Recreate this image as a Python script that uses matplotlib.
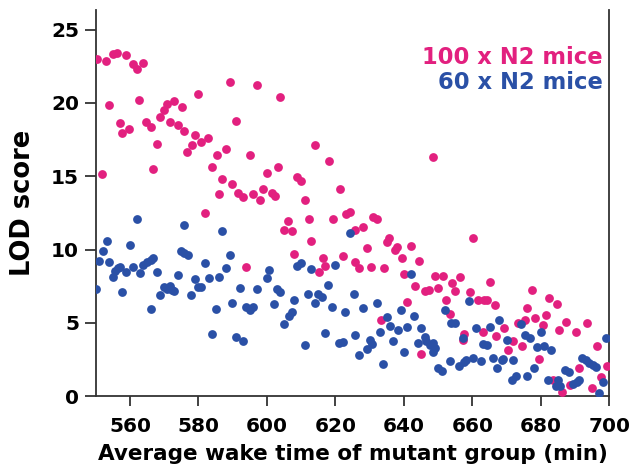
import matplotlib

matplotlib.use("Agg")
import matplotlib.pyplot as plt  # noqa: E402

# 100 x N2 mice (pink)
pink_x = [
    550.4, 553.0, 554.9, 556.1, 558.8, 560.9, 562.1, 563.9, 553.8, 562.7,
    557.1, 557.6, 559.8, 564.8, 566.0, 567.8, 566.6, 551.8, 568.9, 569.9,
    570.9, 572.8, 571.8, 574.0, 575.2, 575.9, 576.7, 578.1, 579.0, 580.8,
    582.9, 580.0, 589.2, 597.1, 590.9, 584.1, 585.3, 588.0, 595.0, 587.0,
    589.9, 585.9, 591.7, 593.0, 596.0, 598.9, 599.9, 598.1, 603.8, 614.0,
    618.0, 603.3, 608.9, 610.1, 621.3, 601.5, 602.3, 611.0, 606.2, 605.0,
    607.3, 612.2, 613.0, 607.9, 619.2, 623.1, 624.3, 628.0, 631.1, 632.3,
    629.3, 616.3, 616.9, 615.1, 622.1, 625.6, 627.0, 630.3, 634.2, 633.2,
    625.7, 582.0, 594.0, 635.8, 635.2, 637.9, 637.3, 642.2, 639.4, 644.3,
    640.0, 643.3, 646.3, 647.4, 649.0, 651.3, 650.1, 656.4, 654.2, 655.0,
    660.3, 652.3, 659.3, 661.8, 663.4, 664.4, 665.3, 666.5, 641.0, 653.4,
    657.7, 657.4, 663.0, 666.9, 645.1, 648.5, 677.3, 682.3, 684.7, 676.1,
    681.4, 673.2, 675.5, 678.4, 680.6, 687.4, 693.6, 685.2, 690.3, 669.3,
    671.8, 674.4, 670.5, 696.3, 679.4, 691.3, 699.3, 697.7, 688.4, 695.0,
    686.2, 683.5,
]
pink_y = [
    22.98, 22.89, 23.34, 23.43, 23.25, 22.66, 22.34, 22.71, 19.84, 20.20,
    18.60, 17.93, 18.20, 18.70, 18.34, 17.20, 15.47, 15.15, 19.02, 19.52,
    19.93, 20.16, 18.70, 18.52, 19.70, 18.11, 16.66, 17.16, 17.84, 17.34,
    17.60, 20.60, 21.40, 21.20, 18.75, 15.65, 16.43, 16.84, 16.43, 14.79,
    14.47, 13.79, 13.83, 13.60, 13.79, 14.15, 15.24, 13.38, 20.39, 17.11,
    16.06, 15.65, 14.93, 14.70, 14.11, 13.88, 13.65, 13.40, 11.95, 11.31,
    11.26, 12.08, 10.58, 9.71, 12.08, 12.44, 12.54, 11.54, 12.22, 12.08,
    10.08, 9.40, 8.89, 8.44, 9.58, 9.17, 8.72, 8.81, 8.72, 5.17,
    11.33, 12.51, 8.78, 10.77, 10.53, 10.17, 9.99, 10.26, 9.40, 9.22,
    8.31, 7.53, 7.17, 7.26, 8.17, 8.21, 7.39, 8.12, 7.71, 7.17,
    10.76, 6.53, 7.08, 6.53, 6.53, 6.53, 7.76, 6.21, 6.44, 5.62,
    4.21, 3.80, 4.35, 4.12, 2.85, 16.34, 7.26, 6.67, 6.26, 5.98,
    5.53, 4.98, 5.21, 5.30, 4.85, 5.07, 4.98, 4.48, 4.35, 4.62,
    3.75, 3.39, 3.12, 3.43, 2.53, 1.93, 2.03, 1.30, 0.75, 0.52,
    0.29, 1.07,
]

# 60 x N2 mice (blue)
blue_x = [
    550.1, 551.0, 552.0, 553.2, 553.9, 554.9, 555.7, 556.5, 557.1, 557.8,
    558.8, 560.0, 560.9, 562.1, 562.9, 563.9, 564.9, 566.0, 566.8, 567.8,
    566.0, 568.7, 569.9, 570.9, 571.7, 572.2, 573.0, 574.0, 575.7, 574.8,
    575.7, 576.9, 577.9, 579.0, 580.0, 580.8, 582.0, 583.1, 584.1, 585.1,
    585.9, 587.0, 588.0, 589.2, 589.9, 590.9, 593.0, 592.1, 594.0, 595.0,
    596.0, 597.1, 600.7, 599.9, 624.2, 608.7, 609.9, 613.0, 620.0, 602.9,
    603.8, 602.1, 607.9, 607.2, 606.4, 605.0, 612.0, 614.9, 616.1, 614.0,
    617.8, 619.0, 622.9, 625.3, 628.0, 632.1, 635.0, 633.0, 616.9, 611.0,
    621.2, 622.1, 625.8, 630.1, 630.7, 629.3, 627.0, 634.0, 642.2, 659.1,
    639.1, 643.1, 635.9, 638.3, 641.0, 644.9, 636.9, 640.0, 644.1, 646.1,
    646.4, 647.6, 648.6, 649.0, 648.4, 652.1, 653.8, 655.0, 657.4, 661.0,
    663.2, 664.2, 665.3, 667.9, 650.1, 651.1, 653.4, 656.2, 657.5, 658.1,
    660.3, 662.4, 666.1, 667.1, 668.8, 674.2, 675.3, 676.9, 680.2, 670.1,
    679.0, 681.0, 683.1, 669.1, 671.8, 678.1, 676.1, 672.8, 671.5, 682.2,
    685.1, 684.3, 685.5, 687.2, 688.2, 689.3, 690.5, 691.3, 692.1, 693.2,
    694.2, 695.2, 696.2, 698.3, 697.1, 698.9,
]
blue_y = [
    7.28, 9.24, 9.92, 10.56, 9.15, 8.14, 8.51, 8.74, 8.83, 7.10,
    8.46, 10.29, 8.83, 12.06, 8.37, 8.96, 9.15, 9.28, 9.42, 8.46,
    5.92, 6.92, 7.46, 7.32, 7.51, 7.24, 7.15, 8.28, 11.65, 9.88,
    9.78, 9.65, 6.92, 7.96, 7.46, 7.46, 9.10, 8.05, 4.23, 5.92,
    8.14, 11.24, 8.74, 9.60, 6.33, 4.05, 3.73, 7.37, 6.05, 5.87,
    6.10, 7.28, 8.58, 8.08, 11.13, 8.85, 9.08, 8.67, 8.94, 7.30,
    7.12, 6.26, 6.57, 5.71, 5.48, 4.89, 6.94, 6.98, 6.76, 6.35,
    7.58, 6.08, 5.76, 6.94, 5.99, 6.35, 5.39, 4.39, 4.30, 3.48,
    3.62, 3.71, 4.16, 3.80, 3.53, 3.21, 2.80, 2.16, 8.31, 6.48,
    5.89, 5.44, 4.80, 4.48, 4.71, 4.62, 3.75, 3.02, 3.62, 4.03,
    3.75, 3.48, 3.62, 3.26, 3.02, 5.85, 4.98, 4.98, 3.94, 4.62,
    3.57, 3.48, 4.71, 5.21, 1.89, 1.71, 2.39, 2.03, 2.30, 2.44,
    2.61, 2.39, 2.57, 1.93, 2.48, 4.89, 4.16, 3.98, 4.39, 3.80,
    3.34, 3.43, 3.12, 2.53, 2.44, 1.93, 1.39, 1.34, 1.07, 1.07,
    1.07, 0.70, 0.70, 1.80, 1.62, 0.84, 0.93, 1.07, 2.57, 2.44,
    2.25, 2.12, 1.98, 0.93, 0.20, 3.94,
]

x_ticks = [560, 580, 600, 620, 640, 660, 680, 700]
y_ticks = [0, 5, 10, 15, 20, 25]
series_labels = ["100 x N2 mice", "60 x N2 mice"]

PINK = "#E2207F"
BLUE = "#2A50A6"

plt.rcParams["font.family"] = ["DejaVu Sans"]
plt.rcParams["font.weight"] = "bold"

fig = plt.figure(figsize=(6.34, 4.71), dpi=100)
ax = fig.add_axes([0.151, 0.159, 0.810, 0.820])

ax.scatter(pink_x, pink_y, s=40, color=PINK, linewidths=0, zorder=3)
ax.scatter(blue_x, blue_y, s=40, color=BLUE, linewidths=0, zorder=3)

ax.set_xlim(550, 700)
ax.set_ylim(0, 26.35)
ax.set_xticks(x_ticks)
ax.set_yticks(y_ticks)

for side in ["left", "bottom", "right"]:
    ax.spines[side].set_linewidth(1.3)
    ax.spines[side].set_color("#333333")
ax.spines["top"].set_visible(False)

ax.tick_params(axis="y", length=8, width=1.3, color="#333333", labelsize=14.5, pad=4)
ax.tick_params(axis="x", length=7, width=1.3, color="#333333", labelsize=14.5, pad=8)
for lbl in ax.get_xticklabels() + ax.get_yticklabels():
    lbl.set_fontweight("bold")

ax.set_xlabel("Average wake time of mutant group (min)", fontsize=15.5,
              fontweight="bold", labelpad=6)
ax.set_ylabel("LOD score", fontsize=18.5, fontweight="bold", labelpad=11)

ax.text(0.988, 0.878, series_labels[0], transform=ax.transAxes, ha="right",
        va="center", color=PINK, fontsize=16.3, fontweight="bold")
ax.text(0.988, 0.813, series_labels[1], transform=ax.transAxes, ha="right",
        va="center", color=BLUE, fontsize=16.3, fontweight="bold")

fig.savefig("out.png", dpi=100)
plt.close(fig)
